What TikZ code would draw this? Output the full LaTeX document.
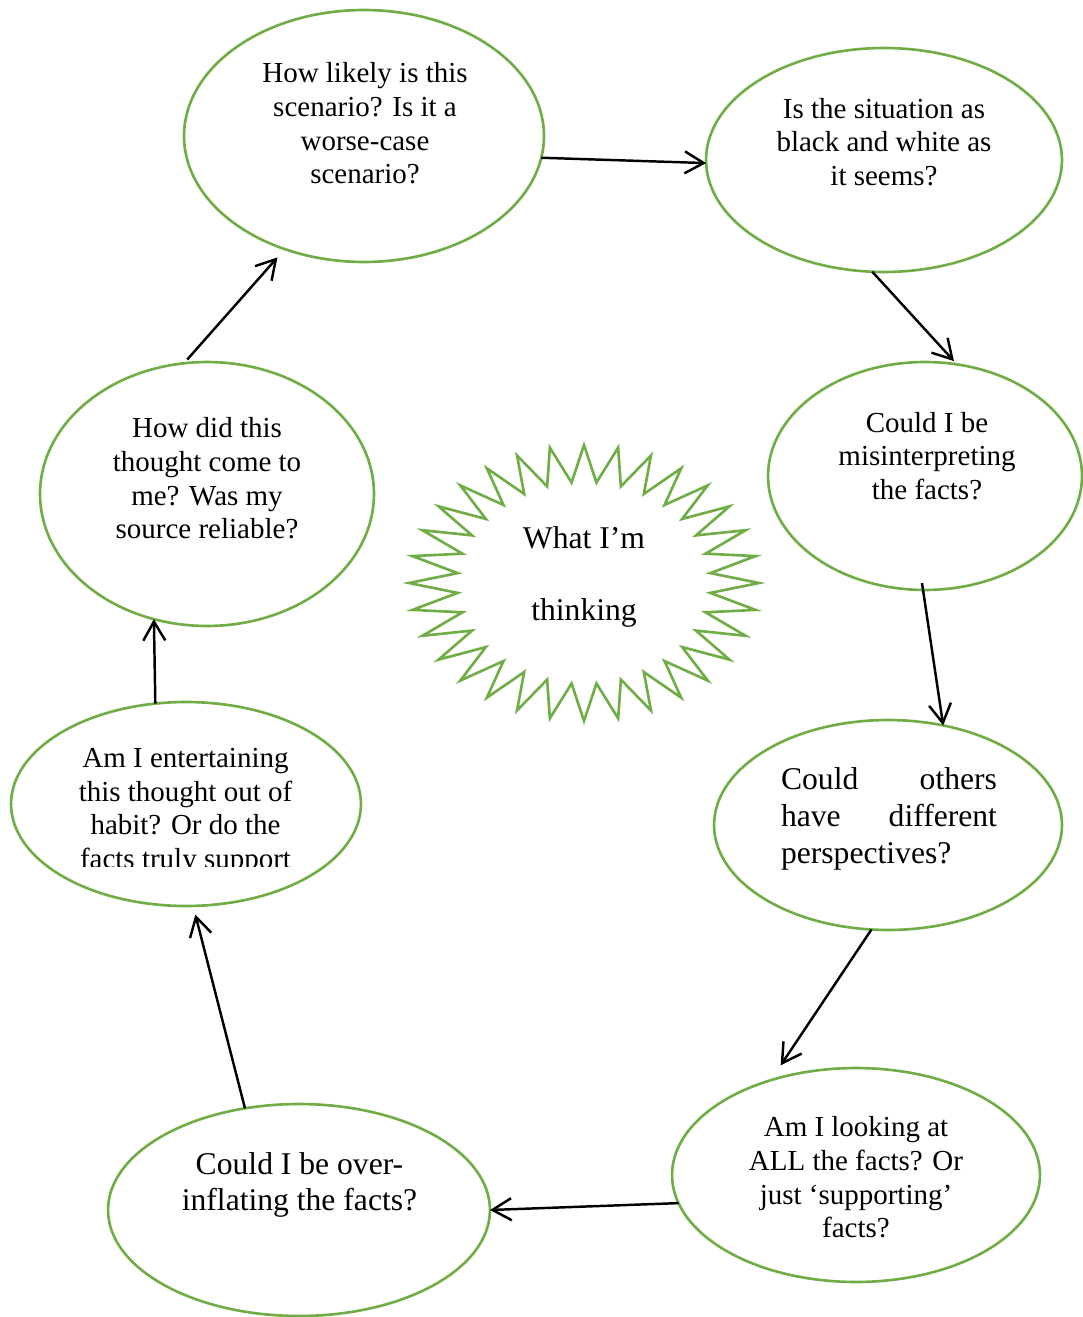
\documentclass[tikz,border=0pt]{standalone}
\usepackage{fontspec}
\setmainfont{Liberation Serif}
\usepackage{xcolor}
\usetikzlibrary{shapes.geometric}
\usetikzlibrary{arrows.meta}
\definecolor{leafgreen}{RGB}{112,173,71}
\tikzset{bubble/.style={draw=leafgreen, line width=1.5pt, shape=ellipse, inner sep=0pt, outer sep=0pt}}
\tikzset{qtext/.style={align=center, font=\fontsize{16.5}{19.2}\selectfont}}
\tikzset{bigtext/.style={align=center, font=\fontsize{18}{21}\selectfont}}
\tikzset{link/.style={-{Straight Barb[length=3.8mm, width=4.4mm]}, line width=1.4pt}}
\tikzset{spiky/.style={draw=leafgreen, line width=1.5pt, line join=miter}}

\begin{document}
\begin{tikzpicture}[x=0.02cm, y=-0.02cm]

\useasboundingbox (0,0) rectangle (1082,1317);

% the eight questions
\node [bubble, minimum width=7.2cm, minimum height=5.04cm] (likely) at (364,136) {};
\node [bubble, minimum width=7.12cm, minimum height=4.48cm] (blackwhite) at (884,160) {};
\node [bubble, minimum width=6.28cm, minimum height=4.56cm] (misread) at (925,476) {};
\node [bubble, minimum width=6.96cm, minimum height=4.2cm] (others) at (888,825) {};
\node [bubble, minimum width=7.36cm, minimum height=4.28cm] (allfacts) at (856,1175) {};
\node [bubble, minimum width=7.64cm, minimum height=4.24cm] (inflate) at (299,1210) {};
\node [bubble, minimum width=7.0cm, minimum height=4.08cm] (habit) at (186,804) {};
\node [bubble, minimum width=6.68cm, minimum height=5.28cm] (source) at (207,494) {};

\node [qtext] (likelytext) at (365,123.5) {How likely is this\\scenario? Is it a\\worse-case\\scenario?};
\node [qtext] (blackwhitetext) at (884,142) {Is the situation as\\black and white as\\it seems?};
\node [qtext] (misreadtext) at (927,456) {Could I be\\misinterpreting\\the facts?};
\node [bigtext, align=justify, text width=4.32cm] (otherstext) at (889,819) {\tolerance=9999 Could others have different perspectives?};
\node [qtext] (allfactstext) at (856,1177.5) {Am I looking at\\ALL the facts? Or\\just ‘supporting’\\facts?};
\node [bigtext, font=\fontsize{18}{20.5}\selectfont] (inflatetext) at (299.5,1185) {Could I be over-\\inflating the facts?};
\begin{scope}
\clip (0,690) rectangle (400,866);
\node [qtext] (habittext) at (185.5,811.5) {Am I entertaining\\this thought out of\\habit? Or do the\\facts truly support};
\end{scope}
\node [qtext] (sourcetext) at (207,478.5) {How did this\\thought come to\\me? Was my\\source reliable?};

% the burst in the middle
\begin{scope}[shift={(584,583)}]
\draw [spiky] (0:3.5cm and 2.76cm) \foreach \i in {0,...,31} { -- ({\i*11.25+5.625}:2.54cm and 2.02cm) -- ({(\i+1)*11.25}:3.5cm and 2.76cm) } -- cycle;
\end{scope}
\node [bigtext] (core) at (584,577) {What I’m\\[20pt]thinking};

\draw [link] (likely.-7) -- (blackwhite.181);
\draw [link, shorten >=0.09cm] (blackwhite.-96) -- (misread.74);
\draw [link, shorten <=-0.14cm] (misread.-91) -- (others.61);
\draw [link, shorten >=0.36cm] (others.-99) -- (allfacts.132);
\draw [link] (allfacts.189) -- (inflate.0);
\draw [link, shorten >=0.18cm] (inflate.118) -- (habit.-86);
\draw [link] (habit.107) -- (source.-113);
\draw [link, shorten <=0.1cm, shorten >=0.22cm] (source.100) -- (likely.-125);

\end{tikzpicture}
\end{document}
